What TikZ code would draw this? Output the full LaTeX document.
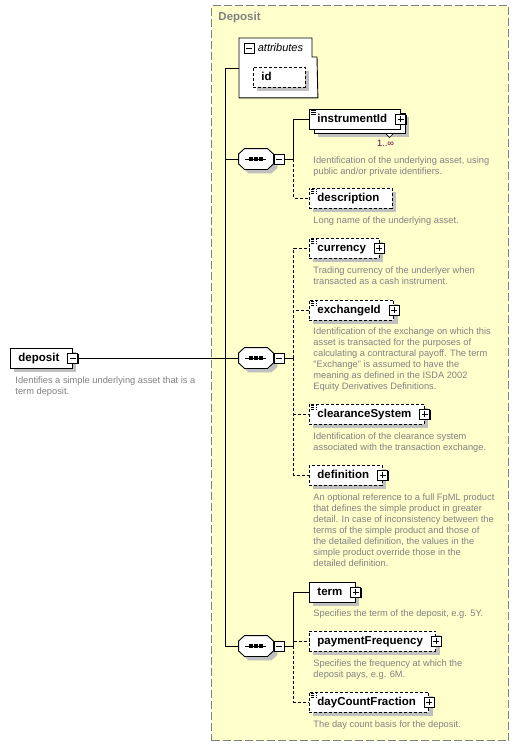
\documentclass[tikz,border=0pt]{standalone}
\usepackage{fontspec}
\setmainfont{Liberation Sans}
\usetikzlibrary{positioning, shadows}
\definecolor{groupfill}{RGB}{255,255,204}
\definecolor{groupline}{RGB}{128,128,128}
\definecolor{shadowgray}{RGB}{192,192,192}
\definecolor{doctext}{RGB}{130,130,130}
\definecolor{multred}{RGB}{112,0,56}

\begin{document}
\begin{tikzpicture}[
    x=1pt, y=-1pt, line width=0.9pt,
    shad/.style={drop shadow={shadow xshift=4pt, shadow yshift=-4pt, fill=shadowgray, opacity=1}},
    elembase/.style={rectangle, draw, fill=white, anchor=west, minimum height=20pt,
                inner xsep=8pt, inner ysep=0pt, text height=8.5pt, text depth=2.5pt,
                font=\fontsize{11.5}{13}\selectfont\bfseries, execute at end node=\hspace{5pt}},
    elem/.style={elembase, shad},
    opt/.style={elem, dash pattern=on 3pt off 2pt},
    multi/.style={elembase,
                drop shadow={shadow xshift=9pt, shadow yshift=-8pt, fill=shadowgray, opacity=1},
                copy shadow={shadow xshift=5pt, shadow yshift=-4pt, draw, fill=white, line width=0.9pt}},
    annot/.style={path picture={
                \fill[white] (path picture bounding box.north west) rectangle ++(8pt,-7pt);
                \foreach \k in {1.5,3.5,5.5}
                  \draw[line width=0.7pt] ([xshift=1.5pt,yshift=-\k pt]path picture bounding box.north west) -- ++(5.5pt,0pt);}},
    icon/.style={rectangle, draw, fill=white, minimum size=10pt, inner sep=0pt, line width=0.8pt,
                drop shadow={shadow xshift=1pt, shadow yshift=-1pt, fill=black, opacity=1}},
    plusicon/.style={icon, path picture={
                \draw[line width=0.8pt] ([xshift=2pt]path picture bounding box.west) -- ([xshift=-2pt]path picture bounding box.east)
                  ([yshift=-2pt]path picture bounding box.north) -- ([yshift=2pt]path picture bounding box.south);}},
    minusicon/.style={icon, path picture={
                \draw[line width=0.8pt] ([xshift=2pt]path picture bounding box.west) -- ([xshift=-2pt]path picture bounding box.east);}},
    seq/.style={rectangle, minimum width=34pt, minimum height=20pt, inner sep=0pt},
    doc/.style={anchor=north west, align=left, inner sep=0pt, text=doctext,
                font=\fontsize{9.3}{11}\selectfont},
    mult/.style={inner sep=0pt, text=multred, font=\fontsize{9.3}{11}\selectfont},
    optline/.style={dash pattern=on 3pt off 2pt}
  ]
    \path[use as bounding box, fill=white] (0,0) rectangle (518,747);

    % group container
    \node[draw=groupline, fill=groupfill, line width=1pt, dash pattern=on 8pt off 3pt,
          minimum width=297pt, minimum height=735pt, anchor=north west, inner sep=0pt] (group) at (211,5) {};
    \node[anchor=north west, inner sep=0pt, text=groupline, font=\fontsize{11.5}{13}\selectfont\bfseries]
          (groupLbl) at ([xshift=7pt,yshift=-7pt]group.north west) {Deposit};

    % root element
    \node[elem] (dep) at (10,358) {deposit};
    \node[minusicon] (depM) at (dep.east) {};
    \node[below=8pt of dep.south west, xshift=5pt, doc] (depDoc)
          {Identifies a simple underlying asset that is a\\term deposit.};

    % attributes
    \node[minimum width=78pt, minimum height=59pt, anchor=north west, inner sep=0pt] (attr) at (239,38) {};
    \draw[fill=white] (attr.north west) -- ++(73,0) -- ++(0,19) -- ++(5,0) -- (attr.south east)
          -- (attr.south west) -- cycle;
    \node[minusicon] (attrM) at (249,48) {};
    \node[right=3pt of attrM, inner sep=0pt, font=\fontsize{11}{13}\selectfont\itshape] (attrLbl) {attributes};
    \node[opt, text width=36pt] (id) at (253,77) {id};

    % sequences
    \node[seq] (seqA) at (256,159) {};
    \node[seq] (seqB) at (256,358) {};
    \node[seq] (seqC) at (256,646) {};
    \foreach \s in {seqA,seqB,seqC} {
      \draw[fill=white, shad] ([xshift=6pt]\s.north west) -- ([xshift=-6pt]\s.north east)
        -- ([yshift=-5.5pt]\s.north east) -- ([yshift=5.5pt]\s.south east)
        -- ([xshift=-6pt]\s.south east) -- ([xshift=6pt]\s.south west)
        -- ([yshift=5.5pt]\s.south west) -- ([yshift=-5.5pt]\s.north west) -- cycle;
      \node[minusicon, right=0.5pt of \s] (\s m) {};
      \coordinate (\s j) at ([xshift=9pt]\s m.east);
      \draw ([xshift=-11pt]\s.center) -- ([xshift=10pt]\s.center);
      \foreach \d in {-5,0,5}
        \fill ([xshift=\d pt]\s.center) +(-1.6,-1.6) rectangle +(1.6,1.6);
    }

    % first sequence
    \node[multi, annot] (instr) at (309,119) {instrumentId};
    \node[plusicon] (instrP) at (instr.east) {};
    \draw[fill=white, line width=0.7pt] ([xshift=-15pt,yshift=-4pt]instr.south east) -- ++(8,0) -- ++(-4,4) -- cycle;
    \node[mult, anchor=north] (instrMult) at ([xshift=-15pt,yshift=-10pt]instr.south east) {1..∞};
    \node[below=27pt of instr.south west, xshift=4pt, doc] (instrDoc)
          {Identification of the underlying asset, using\\public and/or private identifiers.};
    \node[opt, annot] (descr) at (309,198) {description};
    \node[below=8pt of descr.south west, xshift=4pt, doc] (descrDoc) {Long name of the underlying asset.};

    % second sequence
    \node[opt, annot] (curr) at (309,248) {currency};
    \node[plusicon] (currP) at (curr.east) {};
    \node[below=8pt of curr.south west, xshift=4pt, doc] (currDoc)
          {Trading currency of the underlyer when\\transacted as a cash instrument.};
    \node[opt, annot] (exch) at (309,310) {exchangeId};
    \node[plusicon] (exchP) at (exch.east) {};
    \node[below=7pt of exch.south west, xshift=4pt, doc] (exchDoc)
          {Identification of the exchange on which this\\asset is transacted for the purposes of\\calculating a contractural payoff. The term\\"Exchange" is assumed to have the\\meaning as defined in the ISDA 2002\\Equity Derivatives Definitions.};
    \node[opt, annot] (clr) at (309,414) {clearanceSystem};
    \node[plusicon] (clrP) at (clr.east) {};
    \node[below=8pt of clr.south west, xshift=4pt, doc] (clrDoc)
          {Identification of the clearance system\\associated with the transaction exchange.};
    \node[opt] (defn) at (309,475) {definition};
    \node[plusicon] (defnP) at (defn.east) {};
    \node[below=8pt of defn.south west, xshift=4pt, doc] (defnDoc)
          {An optional reference to a full FpML product\\that defines the simple product in greater\\detail. In case of inconsistency between the\\terms of the simple product and those of\\the detailed definition, the values in the\\simple product override those in the\\detailed definition.};

    % third sequence
    \node[elem] (term) at (309,592) {term};
    \node[plusicon] (termP) at (term.east) {};
    \node[below=7pt of term.south west, xshift=4pt, doc] (termDoc) {Specifies the term of the deposit, e.g. 5Y.};
    \node[opt] (payf) at (309,641) {paymentFrequency};
    \node[plusicon] (payfP) at (payf.east) {};
    \node[below=8pt of payf.south west, xshift=4pt, doc] (payfDoc)
          {Specifies the frequency at which the\\deposit pays, e.g. 6M.};
    \node[opt, annot] (dayc) at (309,702) {dayCountFraction};
    \node[plusicon] (daycP) at (dayc.east) {};
    \node[below=8pt of dayc.south west, xshift=4pt, doc] (daycDoc) {The day count basis for the deposit.};

    % connectors
    \draw (depM.east) -- (seqB.west);
    \draw (attr.west) -- ++(-14,0) |- (seqC.west);
    \draw (attr.west) ++(-14,0) |- (seqA.west);
    \draw (seqAm.east) -- (seqAj) |- (instr.west);
    \draw[optline] (seqAj) |- (descr.west);
    \draw (seqBm.east) -- (seqBj);
    \draw[optline] (seqBj) |- (curr.west);
    \draw[optline] (seqBj) |- (exch.west);
    \draw[optline] (seqBj) |- (clr.west);
    \draw[optline] (seqBj) |- (defn.west);
    \draw (seqCm.east) -- (seqCj) |- (term.west);
    \draw[optline] (seqCj) |- (payf.west);
    \draw[optline] (seqCj) |- (dayc.west);
\end{tikzpicture}
\end{document}
